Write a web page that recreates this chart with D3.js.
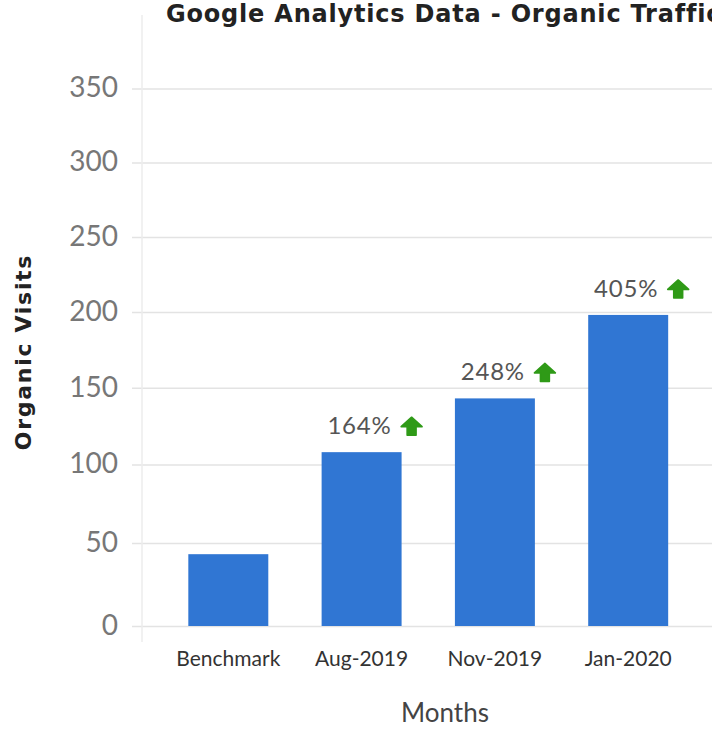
<!DOCTYPE html>
<html>
<head>
<meta charset="utf-8">
<script src="https://cdn.jsdelivr.net/npm/d3@7"></script>
<style>
  body { margin: 0; background: #fff; }
  svg { display: block; }
</style>
</head>
<body>
<div id="chart"></div>
<script>
// data
const months = ["Benchmark", "Aug-2019", "Nov-2019", "Jan-2020"];
const visits = [43, 108, 143, 198];
const growth = [null, "164%", "248%", "405%"];
const yTicks = [0, 50, 100, 150, 200, 250, 300, 350];

const W = 712, H = 729;
const margin = { top: 15, left: 142, bottom: 103 };

let svg = d3.select("#chart").append("svg")
    .attr("width", W).attr("height", H);

// the source image is slightly compressed towards the top, a pow scale close to 1 follows it
let yScale = d3.scalePow().exponent(0.96)
    .domain([0, 400])
    .range([H - margin.bottom, margin.top]);

let xScale = d3.scaleBand()
    .domain(months)
    .range([margin.left - 7, margin.left - 7 + 586.5])
    .paddingInner(0.4)
    .paddingOuter(0.4);

// gridlines + y labels
let yAxis = svg.append("g")
    .attr("transform", "translate(" + (margin.left - 10) + ",0)")
    .call(d3.axisLeft(yScale).tickValues(yTicks).tickSize(-(W - margin.left + 20)).tickPadding(14));
yAxis.select(".domain").remove();
yAxis.selectAll(".tick line").attr("stroke", "#e3e3e3").attr("stroke-width", 1.5);
yAxis.selectAll(".tick text")
    .attr("fill", "#777")
    .style("font-family", "Lato, sans-serif")
    .style("font-size", "28px")
    .attr("dy", "0.3em");

// vertical axis line
svg.append("line")
    .attr("x1", margin.left).attr("x2", margin.left)
    .attr("y1", yScale(400)).attr("y2", yScale(0) + 16)
    .attr("stroke", "#ececec").attr("stroke-width", 1.5);

// bars
svg.append("g").selectAll("rect")
    .data(months)
    .join("rect")
    .attr("x", d => xScale(d))
    .attr("width", xScale.bandwidth())
    .attr("y", (d, i) => yScale(visits[i]))
    .attr("height", (d, i) => yScale(0) - yScale(visits[i]))
    .attr("fill", "#3076d3");

// x labels
let xAxis = svg.append("g")
    .attr("transform", "translate(0," + yScale(0) + ")")
    .call(d3.axisBottom(xScale).tickSize(0).tickPadding(25));
xAxis.select(".domain").remove();
xAxis.selectAll(".tick text")
    .attr("fill", "#333")
    .style("font-family", "Lato, sans-serif")
    .style("font-size", "21px");

// growth labels with green arrows
let labels = svg.append("g").selectAll("g")
    .data(months.filter((d, i) => growth[i] != null))
    .join("g")
    .attr("transform", d => {
        let i = months.indexOf(d);
        return "translate(" + (xScale(d) + xScale.bandwidth() / 2) + "," + (yScale(visits[i]) - 18) + ")";
    });

labels.append("text")
    .attr("x", 30)
    .attr("text-anchor", "end")
    .attr("fill", "#555")
    .style("font-family", "Lato, sans-serif")
    .style("font-size", "24px")
    .style("letter-spacing", "0.8px")
    .text(d => growth[months.indexOf(d)]);

// up arrow, about 22 wide and 18 tall
labels.append("path")
    .attr("transform", "translate(50,-17)")
    .attr("d", "M0,0 L10.5,9.5 L4.5,9.5 L4.5,18 L-4.5,18 L-4.5,9.5 L-10.5,9.5 Z")
    .attr("stroke", "#2f9a17")
    .attr("stroke-width", 1.5)
    .attr("stroke-linejoin", "round")
    .attr("fill", "#2f9a17");

// titles
svg.append("text")
    .attr("x", 166).attr("y", 22)
    .attr("fill", "#222")
    .style("font-family", "'DejaVu Sans', sans-serif")
    .style("font-weight", 700)
    .style("font-size", "24px")
    .style("letter-spacing", "0.8px")
    .text("Google Analytics Data - Organic Traffic");

svg.append("text")
    .attr("transform", "translate(31," + 352 + ") rotate(-90)")
    .attr("text-anchor", "middle")
    .attr("fill", "#222")
    .style("font-family", "'DejaVu Sans', sans-serif")
    .style("font-weight", 700)
    .style("font-size", "22px")
    .style("letter-spacing", "1.7px")
    .text("Organic Visits");

svg.append("text")
    .attr("x", 445).attr("y", 722)
    .attr("text-anchor", "middle")
    .attr("fill", "#444")
    .style("font-family", "Lato, sans-serif")
    .style("font-size", "26px")
    .text("Months");
</script>
</body>
</html>
